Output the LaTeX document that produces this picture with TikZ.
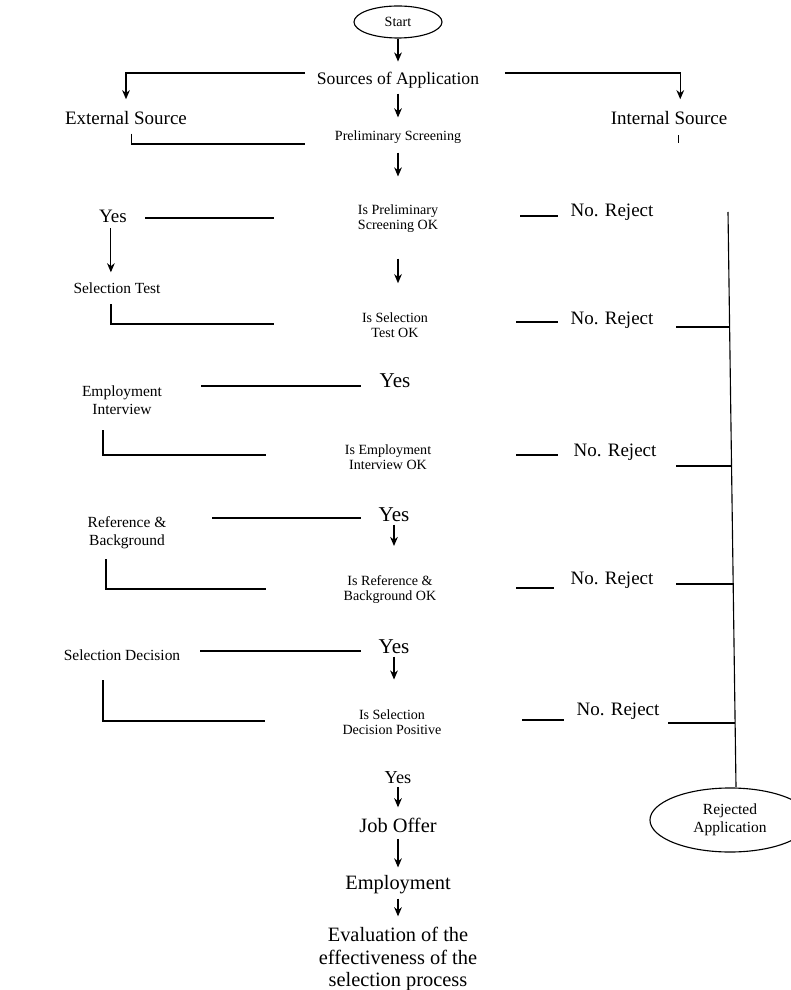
\documentclass[tikz,border=0pt]{standalone}
\usepackage{fontspec}
\setmainfont{Liberation Serif}
\usetikzlibrary{shapes.geometric,arrows.meta}

\begin{document}
\begin{tikzpicture}[x=0.025cm, y=-0.025cm, line width=0.8pt,
		txt/.style={inner sep=0pt, align=center},
		small/.style={txt, font=\fontsize{10}{10.6}\selectfont},
		side/.style={txt, font=\fontsize{11}{12.8}\selectfont},
		big/.style={txt, font=\fontsize{13.5}{16}\selectfont},
		bigyes/.style={txt, font=\fontsize{15}{17}\selectfont},
		large/.style={txt, font=\fontsize{14.5}{16.3}\selectfont},
		oval/.style={ellipse, draw, inner sep=0pt, align=center},
		arr/.style={-{Stealth[length=6.5pt, width=5.5pt]}}]
		%%%%% START %%%%%
		\useasboundingbox (0, 0) rectangle (790, 990);
		
		\node[oval, small, minimum width=2.2cm, minimum height=0.8cm] (start) at (398, 22) {Start};
		\node[txt, font=\fontsize{12.5}{14}\selectfont] (sources) at (398, 80) {Sources of Application};
		\node[big] (external) at (126, 118) {External Source};
		\node[big] (internal) at (669, 118) {Internal Source};
		\node[small] (prescreen) at (398, 137) {Preliminary Screening};
		
		\draw[arr, shorten >=7pt] (start) -- (sources);
		\draw[arr, shorten <=3.5pt, shorten >=9pt] (sources) -- (prescreen);
		\draw[arr, shorten <=8pt, shorten >=8.2pt] ([yshift=5pt]sources.west) -| (external.north);
		\draw[arr, shorten <=18pt, shorten >=8.2pt] ([yshift=5pt]sources.east) -| ([xshift=8pt]internal.north);
		\draw ([xshift=4pt, yshift=-6pt]external.south) |- (305, 144);
		\draw ([xshift=6.5pt, yshift=-7pt]internal.south) -- ++(0, 8);
		
		%% decisions
		\node[big] (yesA) at (113, 216) {Yes};
		\node[small] (isprelim) at (398, 219) {Is Preliminary\\Screening OK};
		\node[big] (rejA) at (612, 212) {No. Reject};
		\node[side] (seltest) at (117, 288) {Selection Test};
		\node[small] (isseltest) at (395, 325) {Is Selection\\Test OK};
		\node[big] (rejB) at (612, 320) {No. Reject};
		\node[bigyes] (yesB) at (395, 381) {Yes};
		\node[side] (empint) at (122, 400) {Employment\\Interview};
		\node[small] (isempint) at (388, 457) {Is Employment\\Interview OK};
		\node[big] (rejC) at (615, 452) {No. Reject};
		\node[bigyes] (yesC) at (394, 515) {Yes};
		\node[side] (refbg) at (127, 533) {Reference \&\\Background};
		\node[small] (isrefbg) at (390, 590) {Is Reference \&\\Background OK};
		\node[big] (rejD) at (612, 580) {No. Reject};
		\node[bigyes] (yesD) at (394, 647) {Yes};
		\node[side] (seldec) at (122, 655) {Selection Decision};
		\node[small] (isseldec) at (392, 722) {Is Selection\\Decision Positive};
		\node[big] (rejE) at (618, 711) {No. Reject};
		
		\draw[arr, shorten <=6.1pt, shorten >=20pt] (prescreen) -- (isprelim);
		\draw[arr, shorten <=4pt, shorten >=6.9pt] ([xshift=-1.5pt]yesA.south) -- ([xshift=-1.5pt]yesA.south |- seltest.north);
		\draw[arr, shorten <=17.9pt, shorten >=20.5pt] (isprelim) -- (isprelim |- isseltest.north);
		\draw[arr, shorten <=1.4pt, shorten >=21pt] (yesC.south) -- (yesC.south |- isrefbg.north);
		\draw[arr, shorten <=1.4pt, shorten >=21pt] (yesD.south) -- (yesD.south |- isseldec.north);
		
		\draw (111, 304) |- (274, 324);
		\draw (103, 430) |- (266, 455);
		\draw (106, 559) |- (266, 589);
		\draw (103, 680) |- (265, 721);
		
		\draw (145, 218) -- (274, 218);
		\draw (201, 386) -- (361, 386);
		\draw (212, 518) -- (361, 518);
		\draw (200, 651) -- (361, 651);
		
		\draw (520, 216) -- (558, 216);
		\draw (516, 322) -- (558, 322);
		\draw (516, 455) -- (558, 455);
		\draw (516, 588) -- (554, 588);
		\draw (522, 720) -- (564, 720);
		
		%% rejected column
		\node[oval, font=\fontsize{11}{12.8}\selectfont, minimum width=4cm, minimum height=1.6cm] (rejected) at (730, 820) {Rejected\\Application};
		\draw (676, 327) -- (730, 327);
		\draw (676, 466) -- (732, 466);
		\draw (676, 584) -- (734, 584);
		\draw (668, 723) -- (735, 723);
		\draw (728, 212) -- (736, 0 |- rejected.north);
		
		%% end of process
		\node[txt, font=\fontsize{13}{15}\selectfont] (yesE) at (398, 778) {Yes};
		\node[large] (joboffer) at (398, 825) {Job Offer};
		\node[large] (employ) at (398, 885) {Employment};
		\node[large] (evaluate) at (398, 959) {Evaluation of the\\effectiveness of the\\selection process};
		
		\draw[arr, shorten <=1.5pt, shorten >=7pt] (yesE) -- (joboffer);
		\draw[arr, shorten <=4.3pt, shorten >=5.5pt] (joboffer) -- (employ);
		\draw[arr, shorten <=2.7pt, shorten >=7pt] (employ) -- (evaluate);
		
		%%%%% END %%%%%
	\end{tikzpicture}
\end{document}
